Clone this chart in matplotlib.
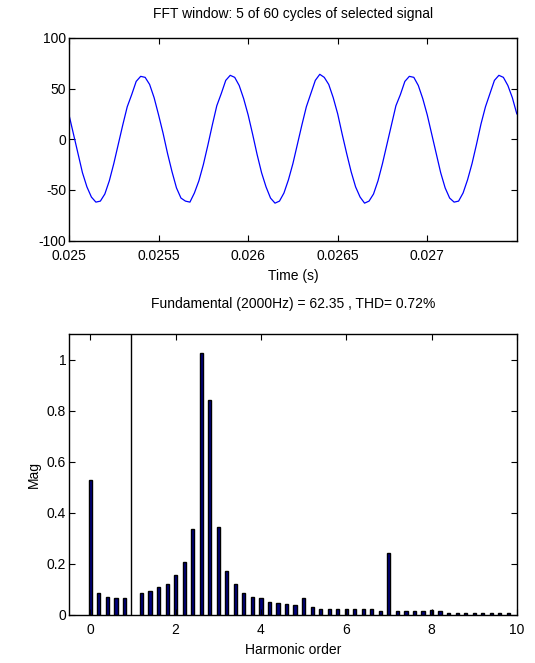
import numpy as np
import matplotlib
matplotlib.use("Agg")
import matplotlib.pyplot as plt

plt.rcParams['font.family'] = ['Liberation Sans', 'DejaVu Sans']
plt.rcParams['axes.unicode_minus'] = False

# signal window (sampled, 20 samples per cycle)
t0 = 0.025
dt = 0.000025
signal = [24, 5, -14, -33, -47, -57, -62, -61, -54, -41, -24, -5, 14, 32, 44, 57, 62, 61, 54, 41,
          24, 6, -14, -32, -48, -58, -61, -62, -53, -41, -25, -6, 14, 33, 45, 58, 63, 61, 53, 40,
          24, 5, -15, -33, -47, -58, -63, -61, -53, -40, -24, -5, 14, 32, 45, 58, 64, 61, 54, 41,
          25, 5, -14, -32, -47, -57, -63, -61, -54, -41, -24, -5, 14, 33, 44, 57, 62, 61, 53, 40,
          24, 5, -14, -33, -48, -58, -62, -61, -53, -40, -24, -5, 15, 32, 45, 58, 63, 61, 53, 41,
          25]

# spectrum (harmonic order, magnitude)
orders = [0.0, 0.2, 0.4, 0.6, 0.8, 1.2, 1.4, 1.6, 1.8, 2.0, 2.2, 2.4, 2.6, 2.8, 3.0,
          3.2, 3.4, 3.6, 3.8, 4.0, 4.2, 4.4, 4.6, 4.8, 5.0, 5.2, 5.4, 5.6, 5.8, 6.0,
          6.2, 6.4, 6.6, 6.8, 7.0, 7.2, 7.4, 7.6, 7.8, 8.0, 8.2, 8.4, 8.6, 8.8, 9.0,
          9.2, 9.4, 9.6, 9.8]
mags = [0.527, 0.086, 0.072, 0.066, 0.066, 0.088, 0.095, 0.11, 0.123, 0.158, 0.207, 0.336, 1.025, 0.84, 0.343,
        0.171, 0.123, 0.088, 0.072, 0.066, 0.051, 0.046, 0.043, 0.038, 0.066, 0.031, 0.023, 0.023, 0.023, 0.023,
        0.023, 0.023, 0.023, 0.016, 0.244, 0.016, 0.016, 0.016, 0.016, 0.021, 0.016, 0.009, 0.009, 0.009, 0.009,
        0.009, 0.009, 0.009, 0.009]
fund_order = 1.0
fund_mag = 100.0

fig = plt.figure(figsize=(5.35, 6.63), dpi=100)

# top: time signal
ax1 = fig.add_axes([0.129, 0.637, 0.837, 0.306])
t = t0 + dt * np.arange(len(signal))
ax1.plot(t, signal, color='#0000ff', lw=0.9)
ax1.set_xlim(0.025, 0.0275)
ax1.set_ylim(-100, 100)
ax1.set_xticks([0.025, 0.0255, 0.026, 0.0265, 0.027])
ax1.set_xticklabels(['0.025', '0.0255', '0.026', '0.0265', '0.027'])
ax1.set_yticks([-100, -50, 0, 50, 100])
ax1.set_title('FFT window: 5 of 60 cycles of selected signal', fontsize=10, pad=14)
ax1.set_xlabel('Time (s)', fontsize=10, labelpad=4)

# bottom: spectrum
ax2 = fig.add_axes([0.129, 0.0724, 0.837, 0.4238])
ax2.bar(orders, mags, width=0.075, color='#000080', edgecolor='black', linewidth=1.0)
ax2.vlines(fund_order - 0.04, 0, fund_mag, color='black', lw=1.0)
ax2.set_xlim(-0.5, 10)
ax2.set_ylim(0, 1.1)
ax2.set_xticks([0, 2, 4, 6, 8, 10])
ax2.set_yticks([0, 0.2, 0.4, 0.6, 0.8, 1])
ax2.set_yticklabels(['0', '0.2', '0.4', '0.6', '0.8', '1'])
ax2.set_title('Fundamental (2000Hz) = 62.35 , THD= 0.72%', fontsize=10, pad=19)
ax2.set_xlabel('Harmonic order', fontsize=10, labelpad=4)
ax2.set_ylabel('Mag', fontsize=10, labelpad=4)

for ax in (ax1, ax2):
    ax.tick_params(direction='in', top=True, right=True, length=4, labelsize=10, width=0.8)
    ax.tick_params(axis='y', pad=2)
    ax.tick_params(axis='x', pad=6)
    for s in ax.spines.values():
        s.set_linewidth(1.0)

fig.savefig('out.png', dpi=100)
